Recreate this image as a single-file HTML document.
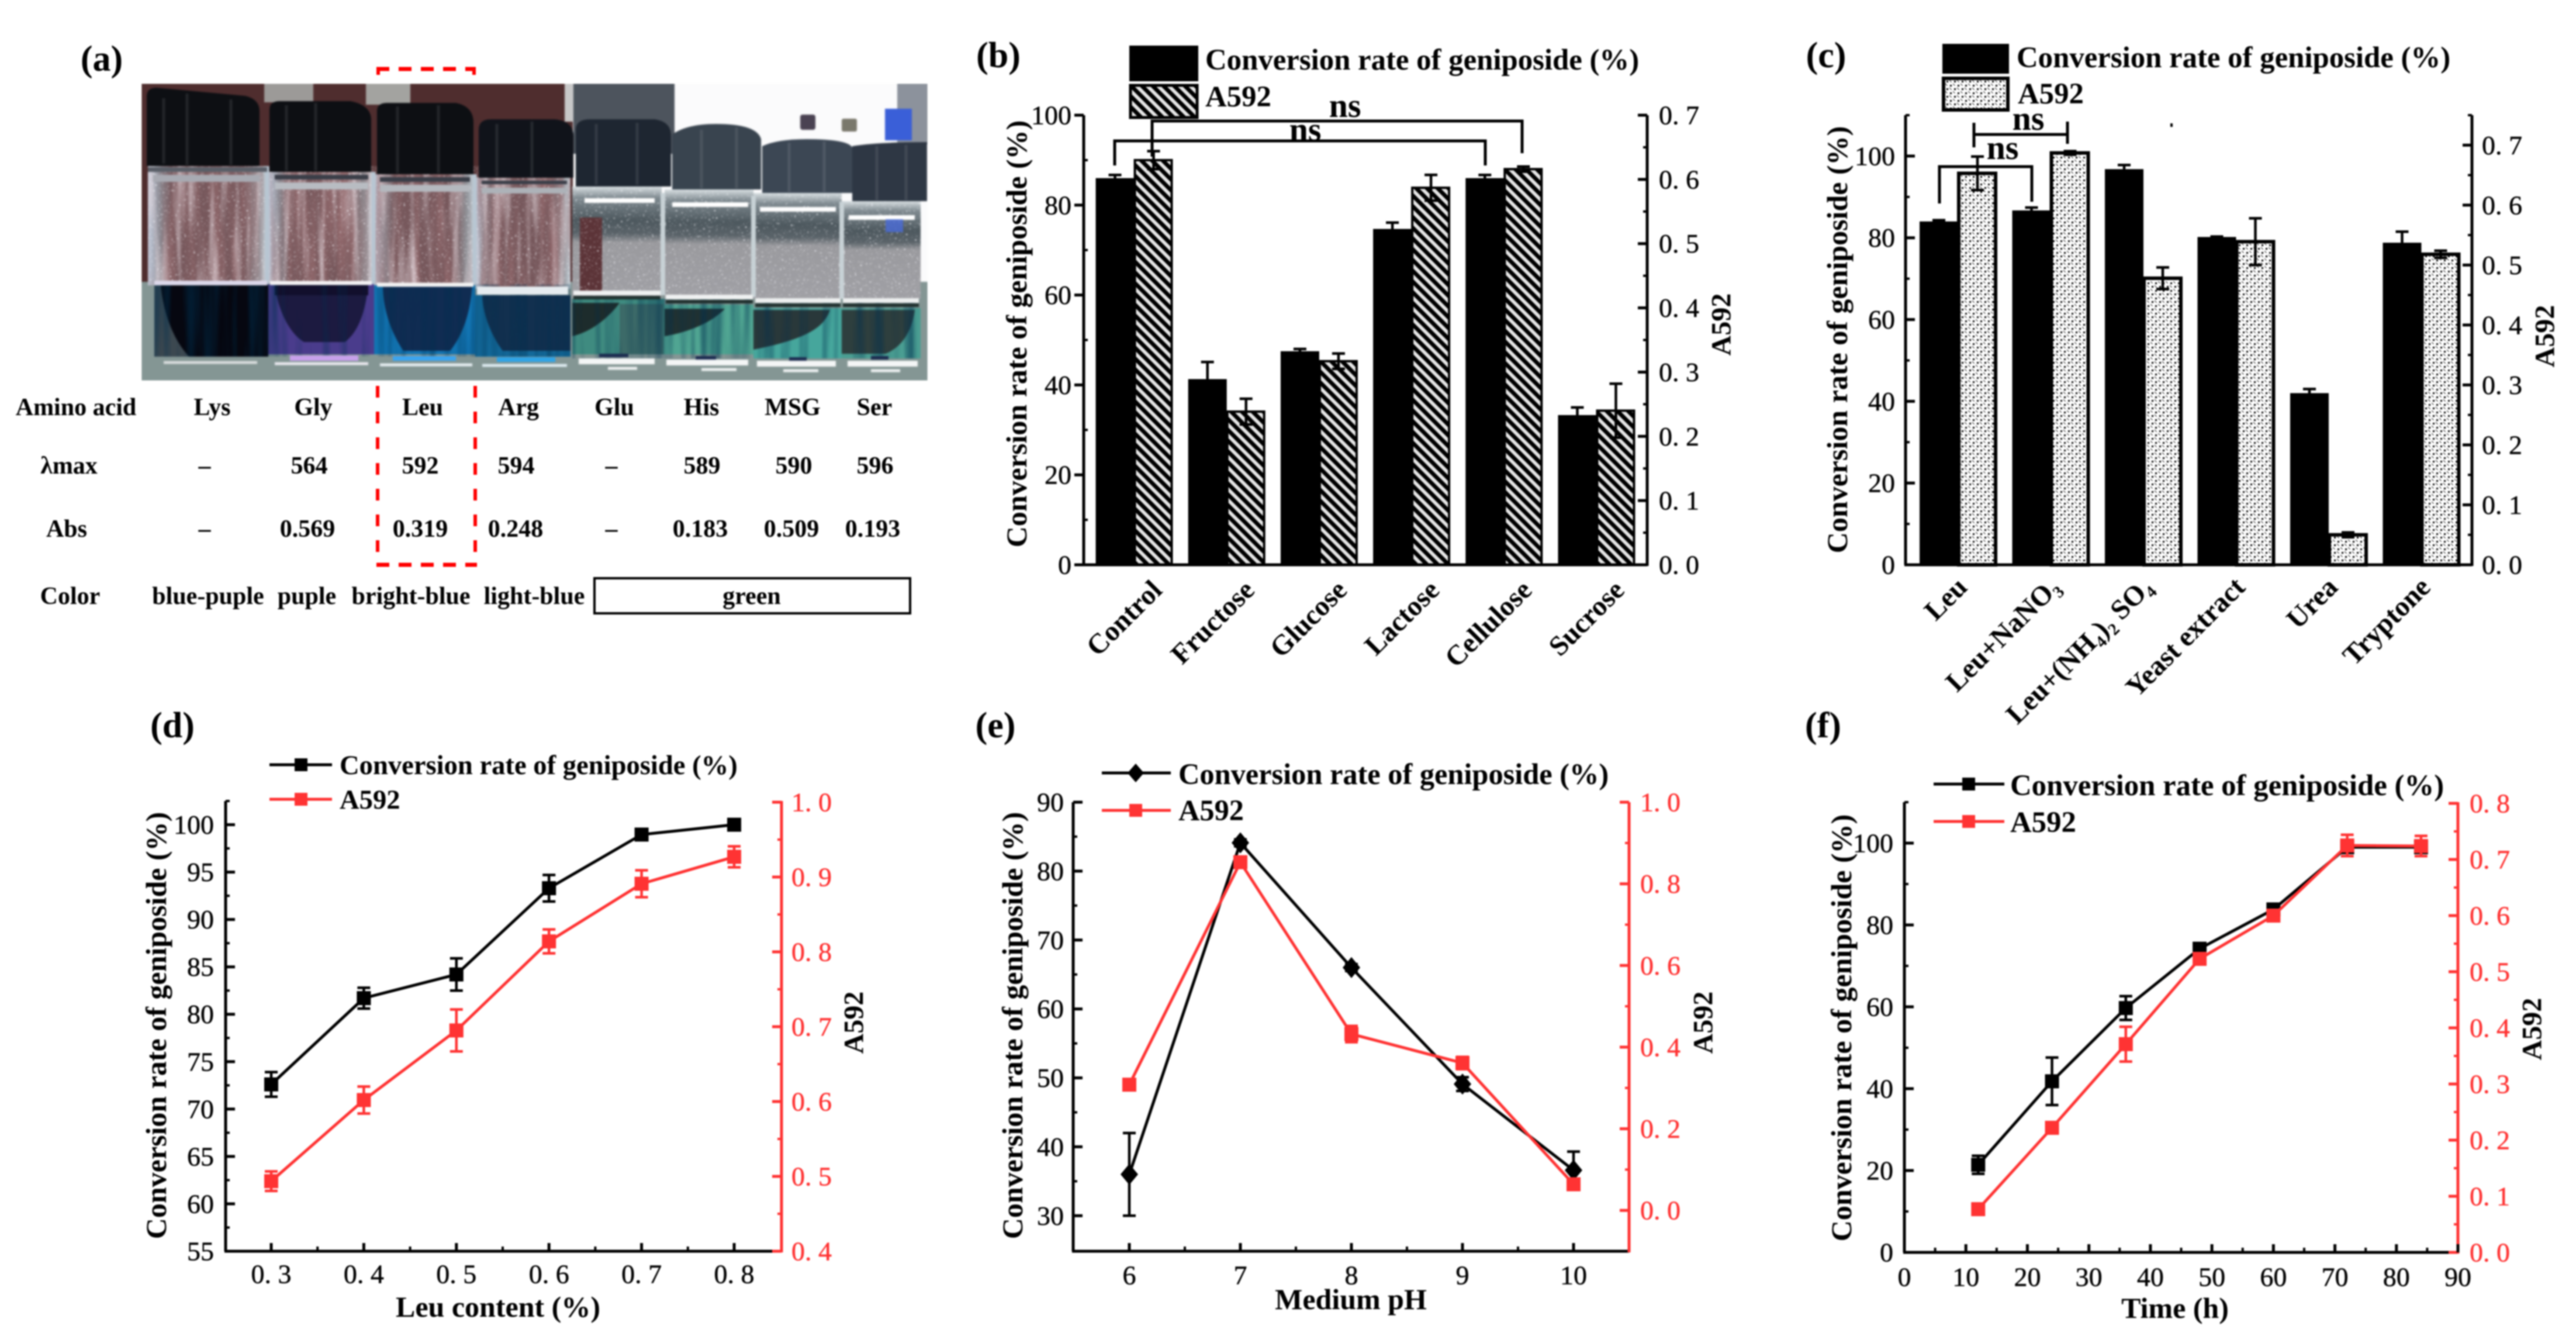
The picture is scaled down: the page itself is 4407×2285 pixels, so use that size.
<!DOCTYPE html>
<html>
<head>
<meta charset="utf-8">
<title>Geniposide conversion figure</title>
<style>
html,body{margin:0;padding:0;background:#fff;}
#figure{display:block;width:4407px;height:2285px;filter:blur(1.3px);font-family:"Liberation Serif","DejaVu Serif",serif;}
.b{font-weight:bold;fill:#000;}
.tbl{font-weight:bold;font-size:42px;text-anchor:middle;fill:#000;}
.leg{font-weight:bold;font-size:50.8px;fill:#000;}
.ytitle{font-weight:bold;font-size:50px;text-anchor:middle;dominant-baseline:central;fill:#000;}
.a592{font-weight:bold;font-size:48px;text-anchor:middle;dominant-baseline:central;fill:#000;}
.xtitle{font-weight:bold;font-size:50px;text-anchor:middle;dominant-baseline:central;fill:#000;}
.plabel{font-weight:bold;font-size:62px;text-anchor:middle;fill:#000;}
.ns{font-weight:bold;font-size:58px;text-anchor:middle;fill:#000;}
</style>
</head>
<body>
<svg id="figure" xmlns="http://www.w3.org/2000/svg" width="4407" height="2285" viewBox="0 0 4407 2285">
<defs>
<pattern id="hatchB" patternUnits="userSpaceOnUse" width="13" height="13" patternTransform="rotate(-45)">
<rect width="13" height="13" fill="#e4e4e4"/><rect width="7" height="13" fill="#000"/>
</pattern>
<pattern id="dotsC" patternUnits="userSpaceOnUse" width="13" height="13">
<rect width="13" height="13" fill="#fff"/>
<path d="M0 0L13 13" stroke="#444" stroke-width="1.3" stroke-dasharray="5 5"/>
<rect x="2" y="8" width="3" height="3" fill="#000"/><rect x="8" y="2" width="3" height="3" fill="#000"/>
</pattern>
<pattern id="ribs" patternUnits="userSpaceOnUse" width="17" height="40">
<rect x="4" width="4" height="40" fill="#fff" opacity=".07"/><rect x="11" width="2" height="40" fill="#000" opacity=".25"/>
</pattern>
<linearGradient id="glassBrown" x1="0" x2="1" y1="0" y2="0">
<stop offset="0" stop-color="#c4cfe0"/><stop offset=".1" stop-color="#8d8a92"/><stop offset=".2" stop-color="#77585c"/><stop offset=".8" stop-color="#77585c"/><stop offset=".92" stop-color="#8f9096"/><stop offset="1" stop-color="#c8d4dc"/>
</linearGradient>
<linearGradient id="glassGrey" x1="0" x2="0" y1="0" y2="1">
<stop offset="0" stop-color="#d8dfe2"/><stop offset=".1" stop-color="#7f8a90"/><stop offset=".3" stop-color="#4d585e"/><stop offset=".42" stop-color="#5a6369"/><stop offset=".5" stop-color="#9a9a9e"/><stop offset="1" stop-color="#a0a0a5"/>
</linearGradient>
<filter id="brownStreak" x="0" y="0" width="100%" height="100%">
<feTurbulence type="fractalNoise" baseFrequency="0.05 0.004" numOctaves="2" seed="4"/>
<feColorMatrix values="0 0 0 0 .36  0 0 0 0 .17  0 0 0 0 .18  1.6 0 0 0 -.62"/>
</filter>
<filter id="lightStreak" x="0" y="0" width="100%" height="100%">
<feTurbulence type="fractalNoise" baseFrequency="0.07 0.005" numOctaves="2" seed="11"/>
<feColorMatrix values="0 0 0 0 .78  0 0 0 0 .68  0 0 0 0 .72  1.8 0 0 0 -.85"/>
</filter>
<filter id="specks" x="0" y="0" width="100%" height="100%">
<feTurbulence type="fractalNoise" baseFrequency="0.32" numOctaves="1" seed="7"/>
<feColorMatrix values="0 0 0 0 .93  0 0 0 0 .93  0 0 0 0 .97  5 0 0 0 -3.1"/>
</filter>
<filter id="darkStreak" x="0" y="0" width="100%" height="100%">
<feTurbulence type="fractalNoise" baseFrequency="0.06 0.003" numOctaves="2" seed="21"/>
<feColorMatrix values="0 0 0 0 0  0 0 0 0 .03  0 0 0 0 .08  2.4 0 0 0 -1"/>
</filter>
<clipPath id="photoClip"><rect x="242" y="143" width="1345" height="508"/></clipPath>
<clipPath id="glassClipL"><rect x="253" y="284" width="723" height="204"/></clipPath>
<clipPath id="glassClipR"><rect x="979" y="319" width="596" height="192"/></clipPath>
<clipPath id="liquidClip"><path d="M264 486H976V610H264ZM979 511H1575V613H979Z"/></clipPath>
</defs>

<!-- panel (a) -->
<g>
<text class="plabel" x="174" y="121">(a)</text>
<g fill="none" stroke="#f00">
<path d="M647 128V118" stroke-width="6"/><path d="M811 128V118" stroke-width="6"/>
<path d="M644 118H814" stroke-width="7" stroke-dasharray="22 16"/>
<path d="M646 660V966" stroke-width="6" stroke-dasharray="20 24"/>
<path d="M813 660V966" stroke-width="6" stroke-dasharray="20 24"/>
<path d="M644 966H816" stroke-width="7" stroke-dasharray="22 16"/>
</g>
<g clip-path="url(#photoClip)" style="filter:blur(1px)">
<rect x="242" y="143" width="1345" height="508" fill="#fbfbfc"/>
<rect x="242" y="143" width="738" height="345" fill="#4f2d2e"/>
<rect x="452" y="143" width="84" height="32" fill="#9c9a98"/><rect x="626" y="143" width="76" height="36" fill="#a3a3a0"/>
<rect x="966" y="143" width="15" height="65" fill="#c8c8c8"/>
<rect x="981" y="143" width="173" height="120" fill="#4d545d"/>
<rect x="1535" y="143" width="52" height="104" fill="#8c929c"/>
<rect x="1514" y="186" width="46" height="54" fill="#3a5fd8"/>
<rect x="1369" y="196" width="26" height="26" rx="4" fill="#4a4252"/><rect x="1440" y="203" width="26" height="22" rx="3" fill="#7a786c"/>
<rect x="242" y="482" width="1345" height="169" fill="#849694"/>

<g>
<rect x="253" y="284" width="204" height="204" fill="url(#glassBrown)"/>
<rect x="459" y="294" width="180" height="190" fill="url(#glassBrown)"/>
<rect x="640" y="298" width="172" height="190" fill="url(#glassBrown)"/>
<rect x="813" y="304" width="163" height="190" fill="url(#glassBrown)"/>
<g clip-path="url(#glassClipL)">
<rect x="253" y="284" width="723" height="204" filter="url(#brownStreak)"/>
<rect x="253" y="284" width="723" height="204" filter="url(#lightStreak)"/>
<rect x="253" y="284" width="723" height="204" filter="url(#specks)"/>
</g>
<path d="M457 284V488M639 294V488M812 298V494" stroke="#b8c6d2" stroke-width="7"/>
<path d="M253 290H457" stroke="#5a5f68" stroke-width="8"/><path d="M262 305H445" stroke="#a8aab2" stroke-width="12"/>
<path d="M470 303H630" stroke="#3a3e48" stroke-width="8"/><path d="M470 318H630" stroke="#b8bcc2" stroke-width="12"/>
<path d="M650 307H804" stroke="#3a3e48" stroke-width="8"/><path d="M650 322H804" stroke="#b4b8be" stroke-width="12"/>
<path d="M824 312H970" stroke="#3a3e48" stroke-width="6"/><path d="M824 326H970" stroke="#adb2b8" stroke-width="10"/>
</g>
<g>
<rect x="979" y="319" width="153" height="192" fill="url(#glassGrey)"/>
<rect x="1137" y="324" width="152" height="187" fill="url(#glassGrey)"/>
<rect x="1289" y="330" width="151" height="181" fill="url(#glassGrey)"/>
<rect x="1440" y="344" width="135" height="167" fill="url(#glassGrey)"/>
<rect x="992" y="372" width="38" height="126" fill="#5c3438"/>
<g clip-path="url(#glassClipR)"><rect x="979" y="319" width="596" height="192" filter="url(#specks)"/></g>
<path d="M1134 330V505M1289 335V508M1440 345V511" stroke="#c8d2d6" stroke-width="8"/>
<path d="M1150 350H1280M1300 358H1430M1452 372H1565M1000 343H1120" stroke="#fff" stroke-width="8"/>
<rect x="1515" y="375" width="30" height="22" fill="#4a6cd8" opacity=".8"/>
</g>

<g clip-path="url(#liquidClip)">
<rect x="264" y="486" width="195" height="130" fill="#3c4850"/>
<path d="M275 488H459V616H330C300 590 280 540 275 488Z" fill="#060710"/>
<rect x="459" y="485" width="181" height="121" fill="#4a3c8c"/>
<path d="M470 486H630C625 540 610 570 590 585H520C495 570 475 530 470 486Z" fill="#1c1a40"/>
<rect x="470" y="487" width="160" height="18" fill="#120f2c"/>
<rect x="640" y="488" width="173" height="118" fill="#1274b2"/>
<path d="M655 488H808C804 540 790 575 770 600H690C670 570 655 530 655 488Z" fill="#102c52"/>
<rect x="813" y="505" width="163" height="105" fill="#13699a"/>
<path d="M825 505H976V600H860C838 570 826 535 825 505Z" fill="#12304f"/>
<rect x="979" y="511" width="158" height="95" fill="#3f8b80"/>
<path d="M979 518H1060C1040 545 1010 568 979 575Z" fill="#1d2c2c"/>
<rect x="1060" y="520" width="75" height="86" fill="#3c6a68"/>
<rect x="1137" y="521" width="152" height="85" fill="#50a592"/>
<path d="M1137 528H1240C1220 550 1180 568 1137 575Z" fill="#213232"/>
<rect x="1289" y="527" width="151" height="86" fill="#46a69c"/>
<path d="M1289 530H1420C1410 560 1380 580 1289 598Z" fill="#29383a"/>
<rect x="1440" y="527" width="135" height="86" fill="#4a9e92"/>
<path d="M1440 530H1565C1560 570 1540 595 1515 605H1440Z" fill="#2e3f3e"/>
<rect x="264" y="486" width="1311" height="127" filter="url(#darkStreak)" opacity=".55"/>
</g>
<g>
<path d="M264 484H457" stroke="#dcd8ea" stroke-width="8"/><path d="M462 484H636" stroke="#f4f2f4" stroke-width="7"/><path d="M645 487H810" stroke="#f2f2f2" stroke-width="7"/>
<path d="M816 497H972" stroke="#e6ecf0" stroke-width="14"/>
<path d="M981 501H1130" stroke="#f0f2f2" stroke-width="8"/><path d="M981 509H1130" stroke="#20302e" stroke-width="6"/>
<path d="M1139 508H1288" stroke="#f0f2f2" stroke-width="8"/><path d="M1139 516H1288" stroke="#20302e" stroke-width="6"/>
<path d="M1292 514H1438" stroke="#eef0f0" stroke-width="8"/><path d="M1292 522H1438" stroke="#20302e" stroke-width="6"/>
<path d="M1442 514H1572" stroke="#eef0f0" stroke-width="8"/><path d="M1442 522H1572" stroke="#20302e" stroke-width="6"/>
</g>
<g>
<path d="M280 620H440" stroke="#d8dcdc" stroke-width="5"/>
<rect x="496" y="608" width="117" height="9" fill="#c8a0ec"/><path d="M470 622H630" stroke="#e8e8ee" stroke-width="5"/>
<rect x="672" y="609" width="108" height="8" fill="#3aa4f0"/><path d="M650 624H808" stroke="#e4ecf0" stroke-width="5"/>
<rect x="850" y="611" width="100" height="8" fill="#2ea4e8"/><path d="M825 625H970" stroke="#dceaf0" stroke-width="5"/>
<path d="M990 618H1120M1140 620H1280M1295 622H1430M1450 622H1570" stroke="#f4f6f6" stroke-width="10"/>
<path d="M1025 608H1075M1190 612H1225M1350 614H1380M1490 612H1520" stroke="#1c2c50" stroke-width="6"/>
<path d="M1040 630H1090M1200 632H1260M1340 634H1400M1490 634H1540" stroke="#eef2f2" stroke-width="5"/>
</g>
<g>
<path d="M251 284V165Q251 150 268 150L420 164Q444 170 444 190V284Z" fill="#0d0f13"/>
<path d="M461 294V188Q461 173 478 173H600Q635 180 635 205V294Z" fill="#0d0f13"/>
<path d="M645 298V190Q645 176 662 176H780Q810 182 810 210V298Z" fill="#0d0f13"/>
<path d="M819 304V222Q819 204 840 204H950Q981 208 981 232V304Z" fill="#10131a"/>
<path d="M985 319V222Q985 204 1010 204H1120Q1148 208 1148 232V319Z" fill="#1e2631"/>
<path d="M1150 324V230Q1175 212 1225 212Q1295 212 1302 238V324Z" fill="#39444f"/>
<path d="M1304 330V250Q1330 238 1380 238Q1450 238 1458 252V330Z" fill="#3c4754"/>
<path d="M1458 344V250Q1500 243 1586 243V344Z" fill="#2e3744"/>
<rect x="251" y="165" width="1335" height="179" fill="url(#ribs)" clip-path="url(#photoClip)" opacity=".0"/>
<path d="M280 168V280M320 160V282M395 170V282M490 180V292M540 176V292M680 182V296M750 180V296M850 212V302M910 208V302M1020 212V316M1090 210V316M1200 222V322M1260 218V322M1350 244V328M1410 242V328M1500 250V342M1550 248V342" stroke="#fff" stroke-width="5" opacity=".09"/>
</g>
</g>
<g>
<text class="tbl" x="130" y="710">Amino acid</text><text class="tbl" x="363" y="710">Lys</text><text class="tbl" x="536" y="710">Gly</text><text class="tbl" x="723" y="710">Leu</text><text class="tbl" x="887" y="710">Arg</text><text class="tbl" x="1051" y="710">Glu</text><text class="tbl" x="1200" y="710">His</text><text class="tbl" x="1356" y="710">MSG</text><text class="tbl" x="1496" y="710">Ser</text>
<text class="tbl" x="118" y="810">λmax</text><text class="tbl" x="350" y="810">–</text><text class="tbl" x="529" y="810">564</text><text class="tbl" x="719" y="810">592</text><text class="tbl" x="883" y="810">594</text><text class="tbl" x="1046" y="810">–</text><text class="tbl" x="1201" y="810">589</text><text class="tbl" x="1358" y="810">590</text><text class="tbl" x="1497" y="810">596</text>
<text class="tbl" x="114" y="918">Abs</text><text class="tbl" x="350" y="918">–</text><text class="tbl" x="526" y="918">0.569</text><text class="tbl" x="719" y="918">0.319</text><text class="tbl" x="882" y="918">0.248</text><text class="tbl" x="1046" y="918">–</text><text class="tbl" x="1198" y="918">0.183</text><text class="tbl" x="1354" y="918">0.509</text><text class="tbl" x="1493" y="918">0.193</text>
<text class="tbl" x="120" y="1033">Color</text><text class="tbl" x="356" y="1033">blue-puple</text><text class="tbl" x="525" y="1033">puple</text><text class="tbl" x="703" y="1033">bright-blue</text><text class="tbl" x="914" y="1033">light-blue</text>
<rect x="1017" y="989" width="540" height="60" fill="none" stroke="#000" stroke-width="4"/>
<text class="tbl" x="1286" y="1033">green</text>
</g>
</g>

<!-- static labels panels b-f -->
<g>
<text class="plabel" x="1708" y="115">(b)</text>
<rect x="1932" y="78" width="118" height="61" fill="#000"/>
<rect x="1934" y="146" width="114" height="55" fill="url(#hatchB)" stroke="#000" stroke-width="5"/>
<text class="leg" x="2062" y="119">Conversion rate of geniposide (%)</text>
<text class="leg" x="2062" y="182">A592</text>
<text class="ytitle" transform="rotate(-90 1739 571)" x="1739" y="571">Conversion rate of geniposide (%)</text>
<text class="a592" transform="rotate(-90 2945 555)" x="2945" y="555">A592</text>
</g>
<g>
<text class="plabel" x="3124" y="115">(c)</text>
<rect x="3323" y="75" width="114" height="51" fill="#000"/>
<rect x="3325" y="134" width="110" height="54" fill="url(#dotsC)" stroke="#000" stroke-width="6"/>
<text class="leg" x="3450" y="115">Conversion rate of geniposide (%)</text>
<text class="leg" x="3452" y="177">A592</text>
<text class="ytitle" transform="rotate(-90 3143 581)" x="3143" y="581">Conversion rate of geniposide (%)</text>
<text class="a592" transform="rotate(-90 4354 575)" x="4354" y="575">A592</text>
<rect x="3713" y="211" width="4" height="6" fill="#000"/>
</g>
<g>
<text class="plabel" x="295" y="1261">(d)</text>
<path d="M461 1308H568" stroke="#000" stroke-width="5"/>
<rect x="504" y="1297" width="22" height="22" fill="#000"/>
<path d="M461 1367H568" stroke="#ff3333" stroke-width="5"/>
<rect x="504" y="1356" width="22" height="22" fill="#ff3333"/>
<text class="leg" style="font-size:46.6px" x="581" y="1324">Conversion rate of geniposide (%)</text>
<text class="leg" style="font-size:46.6px" x="581" y="1383">A592</text>
<text class="ytitle" transform="rotate(-90 267 1754)" x="267" y="1754">Conversion rate of geniposide (%)</text>
<text class="a592" transform="rotate(-90 1461 1749)" x="1461" y="1749">A592</text>
<text class="xtitle" x="852" y="2235">Leu content (%)</text>
</g>
<g>
<text class="plabel" x="1703" y="1261">(e)</text>
<path d="M1885 1322H2003" stroke="#000" stroke-width="5"/>
<path d="M1943 1306L1957 1322L1943 1338L1929 1322Z" fill="#000"/>
<path d="M1885 1386H2003" stroke="#ff3333" stroke-width="5"/>
<rect x="1932" y="1375" width="22" height="22" fill="#ff3333"/>
<text class="leg" style="font-size:50.4px" x="2016" y="1341">Conversion rate of geniposide (%)</text>
<text class="leg" style="font-size:50.4px" x="2016" y="1403">A592</text>
<text class="ytitle" transform="rotate(-90 1732 1754)" x="1732" y="1754">Conversion rate of geniposide (%)</text>
<text class="a592" transform="rotate(-90 2914 1749)" x="2914" y="1749">A592</text>
<text class="xtitle" x="2311" y="2222">Medium pH</text>
</g>
<g>
<text class="plabel" x="3119" y="1261">(f)</text>
<path d="M3308 1341H3429" stroke="#000" stroke-width="5"/>
<rect x="3357" y="1330" width="22" height="22" fill="#000"/>
<path d="M3308 1405H3429" stroke="#ff3333" stroke-width="5"/>
<rect x="3357" y="1394" width="22" height="22" fill="#ff3333"/>
<text class="leg" x="3439" y="1360">Conversion rate of geniposide (%)</text>
<text class="leg" x="3439" y="1423">A592</text>
<text class="ytitle" transform="rotate(-90 3150 1758)" x="3150" y="1758">Conversion rate of geniposide (%)</text>
<text class="a592" transform="rotate(-90 4332 1760)" x="4332" y="1760">A592</text>
<text class="xtitle" x="3721" y="2237">Time (h)</text>
</g>

<g id="marks"></g>

<!-- significance brackets drawn above the bars -->
<g fill="none" stroke="#000" stroke-width="5">
<path d="M1907 283V241H2541V283"/>
<path d="M1971 268V207H2604V262"/>
</g>
<text class="ns" x="2233" y="241">ns</text>
<text class="ns" x="2301" y="200">ns</text>
<g fill="none" stroke="#000" stroke-width="5">
<path d="M3318 348V285H3476V345"/>
<path d="M3377 210V252M3377 230H3537M3537 208V246"/>
</g>
<text class="ns" x="3426" y="272">ns</text>
<text class="ns" x="3470" y="222">ns</text>
</svg>

<script>
// ---- panel (b) data ----
const bCategories = ['Control', 'Fructose', 'Glucose', 'Lactose', 'Cellulose', 'Sucrose'];
const bConversion = [86, 41.3, 47.5, 74.7, 86, 33.3];
const bConversionErr = [0.7, 3.8, 0.5, 1.4, 0.7, 1.7];
const bA592 = [0.63, 0.2385, 0.317, 0.587, 0.616, 0.24];
const bA592Err = [0.014, 0.02, 0.012, 0.02, 0.004, 0.042];
const bLeftTicks = [0, 20, 40, 60, 80, 100];
const bLeftMinor = [10, 30, 50, 70, 90];
const bRightTicks = [0, 0.1, 0.2, 0.3, 0.4, 0.5, 0.6, 0.7];
const bRightMinor = [0.05, 0.15, 0.25, 0.35, 0.45, 0.55, 0.65];

// ---- panel (c) data ----
const cCategories = ['Leu', 'Leu+NaNO₃', 'Leu+(NH₄)₂ SO₄', 'Yeast extract', 'Urea', 'Tryptone'];
const cConversion = [84, 86.7, 96.8, 80.2, 42, 78.8];
const cConversionErr = [0.3, 0.7, 1, 0.1, 1, 2.7];
const cA592 = [0.653, 0.687, 0.478, 0.539, 0.05, 0.518];
const cA592Err = [0.028, 0.003, 0.018, 0.039, 0.004, 0.006];
const cLeftTicks = [0, 20, 40, 60, 80, 100];
const cLeftMinor = [10, 30, 50, 70, 90, 110];
const cRightTicks = [0, 0.1, 0.2, 0.3, 0.4, 0.5, 0.6, 0.7];
const cRightMinor = [0.05, 0.15, 0.25, 0.35, 0.45, 0.55, 0.65, 0.75];

// ---- panel (d) data ----
const dLeu = [0.3, 0.4, 0.5, 0.6, 0.7, 0.8];
const dConversion = [72.6, 81.7, 84.2, 93.3, 98.96, 100];
const dConversionErr = [1.3, 1.1, 1.7, 1.4, 0.5, 0.1];
const dA592 = [0.4936, 0.602, 0.695, 0.814, 0.891, 0.927];
const dA592Err = [0.013, 0.018, 0.028, 0.016, 0.018, 0.014];
const dLeftTicks = [55, 60, 65, 70, 75, 80, 85, 90, 95, 100];
const dLeftMinor = [57.5, 62.5, 67.5, 72.5, 77.5, 82.5, 87.5, 92.5, 97.5, 102.5];
const dRightTicks = [0.4, 0.5, 0.6, 0.7, 0.8, 0.9, 1.0];
const dRightMinor = [0.45, 0.55, 0.65, 0.75, 0.85, 0.95];
const dXTicks = [0.3, 0.4, 0.5, 0.6, 0.7, 0.8];
const dXMinor = [0.35, 0.45, 0.55, 0.65, 0.75];

// ---- panel (e) data ----
const ePH = [6, 7, 8, 9, 10];
const eConversion = [36, 84.1, 66, 49.1, 36.6];
const eConversionErr = [6, 0.5, 0.5, 1, 2.7];
const eA592 = [0.308, 0.853, 0.432, 0.361, 0.064];
const eA592Err = [0.01, 0.01, 0.02, 0.015, 0.01];
const eLeftTicks = [30, 40, 50, 60, 70, 80, 90];
const eLeftMinor = [35, 45, 55, 65, 75, 85];
const eRightTicks = [0, 0.2, 0.4, 0.6, 0.8, 1.0];
const eRightMinor = [0.1, 0.3, 0.5, 0.7, 0.9];
const eXTicks = [6, 7, 8, 9, 10];
const eXMinor = [6.5, 7.5, 8.5, 9.5];

// ---- panel (f) data ----
const fTime = [12, 24, 36, 48, 60, 72, 84];
const fConversion = [21.4, 41.8, 59.7, 74.2, 83.8, 99, 99];
const fConversionErr = [2.2, 5.8, 2.9, 1, 1, 1, 1];
const fA592 = [0.077, 0.222, 0.371, 0.523, 0.6, 0.725, 0.724];
const fA592Err = [0.005, 0.01, 0.031, 0.01, 0.01, 0.019, 0.018];
const fLeftTicks = [0, 20, 40, 60, 80, 100];
const fLeftMinor = [10, 30, 50, 70, 90, 110];
const fRightTicks = [0, 0.1, 0.2, 0.3, 0.4, 0.5, 0.6, 0.7, 0.8];
const fRightMinor = [0.05, 0.15, 0.25, 0.35, 0.45, 0.55, 0.65, 0.75];
const fXTicks = [0, 10, 20, 30, 40, 50, 60, 70, 80, 90];
const fXMinor = [5, 15, 25, 35, 45, 55, 65, 75, 85];

const SVGNS = 'http://www.w3.org/2000/svg';
const RED = '#ff3333';
const root = document.getElementById('marks');

function add(parent, tag, attrs, text) {
  const el = document.createElementNS(SVGNS, tag);
  for (const k in attrs) el.setAttribute(k, attrs[k]);
  if (text !== undefined) el.textContent = text;
  parent.appendChild(el);
  return el;
}
function linear(d0, d1, r0, r1) {
  return v => r0 + (v - d0) / (d1 - d0) * (r1 - r0);
}
function fmtSpaced(v) {
  return v.toFixed(1).replace('.', '. ');
}

function drawAxes(p) {
  const g = add(root, 'g', {});
  
  
  const rc = p.rightColor;
  const leftDir = p.leftOut ? -1 : 1;

  const lsp = add(g, 'path', {d: `M${p.left} ${p.top}V${p.bottom}`, stroke: '#000', 'stroke-width': 5});
  
  
  const bsp = add(g, 'path', {d: `M${p.left - 2} ${p.bottom}H${p.right}`, stroke: '#000', 'stroke-width': 5});
  
  
  const rsp = add(g, 'path', {d: `M${p.right} ${p.top}V${p.bottom + 2}`, stroke: rc, 'stroke-width': 5});
  
  

  p.leftTicks.forEach(v => {
    const y = p.yL(v);
    const t = add(g, 'path', {d: `M${p.left} ${y}h${leftDir * 16}`, stroke: '#000', 'stroke-width': 5});
    
    
    const l = add(g, 'text', {x: p.leftLabelX, y: y, 'text-anchor': 'end', 'dominant-baseline': 'central', 'font-size': 46, fill: '#000', stroke: '#000', 'stroke-width': 0.5}, String(v));
    
    
  });
  p.leftMinor.forEach(v => {
    const t = add(g, 'path', {d: `M${p.left} ${p.yL(v)}h7`, stroke: '#000', 'stroke-width': 4});
    
    
  });
  p.rightTicks.forEach(v => {
    const y = p.yR(v);
    const t = add(g, 'path', {d: `M${p.right} ${y}h-16`, stroke: rc, 'stroke-width': 5});
    
    
    const l = add(g, 'text', {x: p.rightLabelX, y: y, 'dominant-baseline': 'central', 'font-size': 46, fill: rc, stroke: rc, 'stroke-width': 0.5}, fmtSpaced(v));
    
    
  });
  p.rightMinor.forEach(v => {
    const t = add(g, 'path', {d: `M${p.right} ${p.yR(v)}h-7`, stroke: rc, 'stroke-width': 4});
    
    
  });
  if (p.xTicks) {
    p.xTicks.forEach(v => {
      const x = p.x(v);
      const t = add(g, 'path', {d: `M${x} ${p.bottom}v-14`, stroke: '#000', 'stroke-width': 5});
      
      
      const l = add(g, 'text', {x: x, y: p.xLabelY, 'text-anchor': 'middle', 'dominant-baseline': 'central', 'font-size': 46, fill: '#000', stroke: '#000', 'stroke-width': 0.5}, p.xFmt(v));
      
      
    });
    p.xMinor.forEach(v => {
      const t = add(g, 'path', {d: `M${p.x(v)} ${p.bottom}v-8`, stroke: '#000', 'stroke-width': 4});
      
      
    });
  }
}

function errorBar(g, x, yHigh, yLow, color, capHalf) {
  const e = add(g, 'path', {
    d: `M${x - capHalf} ${yHigh}H${x + capHalf}M${x} ${yHigh}V${yLow}M${x - capHalf} ${yLow}H${x + capHalf}`,
    stroke: color, 'stroke-width': 4.5, fill: 'none'
  });
  
  
}

function drawBars(p, cats, conv, convErr, a592, a592Err, fillId, bw, labOffX, labY, outline) {
  const g = add(root, 'g', {});
  
  
  cats.forEach((c, i) => {
    const cx = p.x(i);
    const y1 = p.yL(conv[i]);
    const b1 = add(g, 'rect', {x: cx - bw, y: y1, width: bw, height: p.bottom - y1, fill: '#000'});
    
    
    errorBar(g, cx - bw / 2, p.yL(conv[i] + convErr[i]), p.yL(conv[i] - convErr[i]), '#000', 11);
    const y2 = p.yR(a592[i]);
    const b2 = add(g, 'rect', {x: cx + 1, y: y2, width: bw - 3, height: p.bottom - y2, fill: `url(#${fillId})`, stroke: '#000', 'stroke-width': outline});
    
    
    errorBar(g, cx + bw / 2, p.yR(a592[i] + a592Err[i]), p.yR(a592[i] - a592Err[i]), '#000', 11);
    const lx = cx + labOffX;
    const l = add(g, 'text', {x: lx, y: labY, 'text-anchor': 'end', 'font-size': 48, 'font-weight': 'bold', fill: '#000', transform: `rotate(-45 ${lx} ${labY})`}, c);
    
    
  });
}

function drawSeries(p, xs, vals, errs, yScale, color, marker) {
  const g = add(root, 'g', {});
  
  
  const pts = xs.map((v, i) => `${p.x(v)},${yScale(vals[i])}`).join(' ');
  const line = add(g, 'polyline', {points: pts, fill: 'none', stroke: color, 'stroke-width': 5});
  
  
  xs.forEach((v, i) => {
    const x = p.x(v), y = yScale(vals[i]);
    errorBar(g, x, yScale(vals[i] + errs[i]), yScale(vals[i] - errs[i]), color, 11);
    let m;
    if (marker === 'diamond') {
      m = add(g, 'path', {d: `M${x} ${y - 18}L${x + 15} ${y}L${x} ${y + 18}L${x - 15} ${y}Z`, fill: color});
    } else {
      m = add(g, 'rect', {x: x - 12, y: y - 12, width: 24, height: 24, fill: color});
    }
    
    
  });
}

// Panel (b)
const panelB = {
  left: 1854, right: 2818, top: 197, bottom: 966, leftOut: true, rightColor: '#000',
  leftLabelX: 1833, rightLabelX: 2838,
  leftTicks: bLeftTicks, leftMinor: bLeftMinor, rightTicks: bRightTicks, rightMinor: bRightMinor,
  yL: linear(0, 100, 966, 197), yR: linear(0, 0.7, 966, 197),
  x: linear(-0.547, 5.547, 1854, 2818)
};
drawBars(panelB, bCategories, bConversion, bConversionErr, bA592, bA592Err, 'hatchB', 66, 50, 1012, 4);
drawAxes(panelB);

// Panel (c)
const panelC = {
  left: 3260, right: 4229, top: 197, bottom: 966, leftOut: false, rightColor: '#000',
  leftLabelX: 3242, rightLabelX: 4246,
  leftTicks: cLeftTicks, leftMinor: cLeftMinor, rightTicks: cRightTicks, rightMinor: cRightMinor,
  yL: linear(0, 110, 966, 197), yR: linear(0, 0.75, 966, 197),
  x: linear(-0.568, 5.546, 3260, 4229)
};
drawBars(panelC, cCategories, cConversion, cConversionErr, cA592, cA592Err, 'dotsC', 66, 18, 1007, 6);
drawAxes(panelC);

// Panel (d)
const panelD = {
  left: 386, right: 1337, top: 1370, bottom: 2140, leftOut: false, rightColor: RED,
  leftLabelX: 366, rightLabelX: 1354, xLabelY: 2179,
  leftTicks: dLeftTicks, leftMinor: dLeftMinor, rightTicks: dRightTicks, rightMinor: dRightMinor,
  xTicks: dXTicks, xMinor: dXMinor, xFmt: fmtSpaced,
  yL: linear(55, 102.5, 2140, 1370), yR: linear(0.4, 1.0, 2140, 1372),
  x: linear(0.3, 0.8, 464, 1256)
};
drawAxes(panelD);
drawSeries(panelD, dLeu, dConversion, dConversionErr, panelD.yL, '#000', 'square');
drawSeries(panelD, dLeu, dA592, dA592Err, panelD.yR, RED, 'square');

// Panel (e)
const panelE = {
  left: 1836, right: 2787, top: 1372, bottom: 2140, leftOut: false, rightColor: RED,
  leftLabelX: 1820, rightLabelX: 2806, xLabelY: 2181,
  leftTicks: eLeftTicks, leftMinor: eLeftMinor, rightTicks: eRightTicks, rightMinor: eRightMinor,
  xTicks: eXTicks, xMinor: eXMinor, xFmt: String,
  yL: linear(24.85, 90, 2140, 1372), yR: linear(-0.1, 1.0, 2140, 1372),
  x: linear(6, 10, 1932, 2692)
};
drawAxes(panelE);
drawSeries(panelE, ePH, eConversion, eConversionErr, panelE.yL, '#000', 'diamond');
drawSeries(panelE, ePH, eA592, eA592Err, panelE.yR, RED, 'square');

// Panel (f)
const panelF = {
  left: 3258, right: 4205, top: 1372, bottom: 2142, leftOut: false, rightColor: RED,
  leftLabelX: 3239, rightLabelX: 4225, xLabelY: 2184,
  leftTicks: fLeftTicks, leftMinor: fLeftMinor, rightTicks: fRightTicks, rightMinor: fRightMinor,
  xTicks: fXTicks, xMinor: fXMinor, xFmt: String,
  yL: linear(0, 110, 2142, 1372), yR: linear(0, 0.8, 2142, 1374),
  x: linear(0, 90, 3258, 4205)
};
drawAxes(panelF);
drawSeries(panelF, fTime, fConversion, fConversionErr, panelF.yL, '#000', 'square');
drawSeries(panelF, fTime, fA592, fA592Err, panelF.yR, RED, 'square');
</script>
</body>
</html>
